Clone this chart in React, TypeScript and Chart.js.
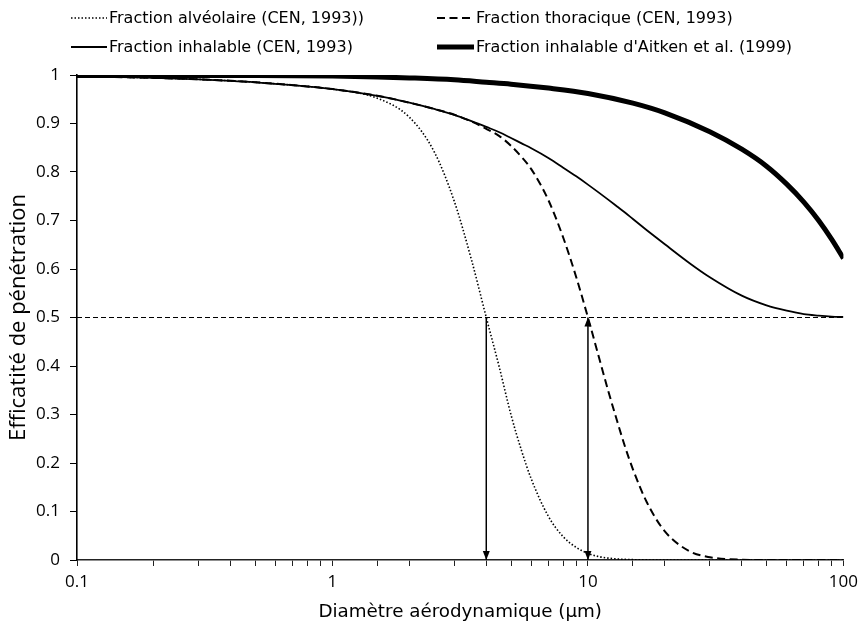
import React, { useEffect, useRef } from "react";
import { Chart, registerables } from "chart.js";

Chart.register(...registerables);

// ---- Data ----
const X_CEN = [0.1, 0.15, 0.2, 0.3, 0.4, 0.5, 0.7, 1, 1.5, 2, 2.5, 3, 3.5, 4, 4.5, 5, 5.5, 6, 7, 8, 9, 10, 11, 12, 13, 14, 15, 17, 20, 25, 30, 40, 50, 60, 70, 80, 90, 100];

const ALVEOLAIRE = [0.997, 0.9955, 0.994, 0.991, 0.988, 0.985, 0.979, 0.971, 0.952, 0.913, 0.842, 0.739, 0.619, 0.5, 0.397, 0.299, 0.225, 0.167, 0.09, 0.048, 0.026, 0.0135, 0.0072, 0.0039, 0.0021, 0.0012, 0.0007, 0.0002, 0, 0, 0, 0, 0, 0, 0, 0, 0, 0];

const THORACIQUE = [0.997, 0.9955, 0.994, 0.991, 0.988, 0.985, 0.979, 0.971, 0.957, 0.943, 0.93, 0.918, 0.904, 0.889, 0.874, 0.854, 0.831, 0.806, 0.742, 0.665, 0.583, 0.5, 0.421, 0.349, 0.287, 0.232, 0.187, 0.119, 0.059, 0.018, 0.0057, 0.0006, 0, 0, 0, 0, 0, 0];

const INHALABLE = [0.997, 0.9955, 0.994, 0.991, 0.988, 0.985, 0.979, 0.971, 0.957, 0.943, 0.93, 0.918, 0.905, 0.893, 0.882, 0.87, 0.859, 0.849, 0.829, 0.809, 0.791, 0.774, 0.758, 0.743, 0.729, 0.716, 0.703, 0.68, 0.651, 0.612, 0.583, 0.545, 0.525, 0.514, 0.507, 0.504, 0.502, 0.501];

const X_AITKEN = [0.1, 0.2, 0.5, 1, 1.5, 2, 3, 4, 5, 7, 10, 15, 20, 30, 40, 50, 60, 70, 80, 90, 100];
const AITKEN = [0.999, 0.999, 0.999, 0.998, 0.996, 0.994, 0.99, 0.985, 0.981, 0.973, 0.962, 0.942, 0.922, 0.883, 0.847, 0.812, 0.775, 0.738, 0.7, 0.661, 0.622];

const HALF_X = [0.1, 100];
const HALF_Y = [0.5, 0.5];

const ARROW_X = [4, 10];
const ARROW_Y = [0.5, 0];
const ARROW_HEADS = [["end"], ["start", "end"]];

const X_TICK_LABELS = [0.1, 1, 10, 100];

const LABELS = [
  "Fraction alvéolaire (CEN, 1993))",
  "Fraction thoracique (CEN, 1993)",
  "Fraction inhalable (CEN, 1993)",
  "Fraction inhalable d'Aitken et al. (1999)",
];

const X_TITLE = "Diamètre aérodynamique (µm)";
const Y_TITLE = "Efficatité de pénétration";

const toPoints = (xs: number[], ys: number[]) => xs.map((x, i) => ({ x, y: ys[i] }));

const legendPlugin = {
  id: "customLegend",
  afterDraw(chart: any) {
    const ctx = chart.ctx;
    const cols = [71, 437];
    const sampleW = [36, 37];
    const rows = [18, 47];
    for (let i = 0; i < 4; i++) {
      const ds = chart.data.datasets[i];
      const c = i % 2;
      const x0 = cols[c];
      const y = rows[Math.floor(i / 2)];
      ctx.save();
      ctx.strokeStyle = ds.borderColor;
      ctx.lineWidth = ds.borderWidth;
      ctx.setLineDash(ds.borderDash || []);
      ctx.beginPath();
      ctx.moveTo(x0, y);
      ctx.lineTo(x0 + sampleW[c], y);
      ctx.stroke();
      ctx.setLineDash([]);
      ctx.fillStyle = "#000";
      ctx.font = '16px "DejaVu Sans"';
      ctx.textBaseline = "middle";
      ctx.textAlign = "left";
      ctx.fillText(ds.label, x0 + sampleW[c] + 2, y + 1);
      ctx.restore();
    }
  },
};

const arrowPlugin = {
  id: "arrowHeads",
  afterDatasetsDraw(chart: any) {
    const ctx = chart.ctx;
    chart.data.datasets.forEach((ds: any, i: number) => {
      if (!ds.arrowHeads) return;
      const pts = chart.getDatasetMeta(i).data;
      const draw = (tip: any, from: any) => {
        const ang = Math.atan2(tip.y - from.y, tip.x - from.x);
        const len = 9;
        const hw = 3.5;
        ctx.save();
        ctx.fillStyle = "#000";
        ctx.translate(tip.x, tip.y);
        ctx.rotate(ang);
        ctx.beginPath();
        ctx.moveTo(0, 0);
        ctx.lineTo(-len, -hw);
        ctx.lineTo(-len, hw);
        ctx.closePath();
        ctx.fill();
        ctx.restore();
      };
      if (ds.arrowHeads.includes("end")) draw(pts[pts.length - 1], pts[0]);
      if (ds.arrowHeads.includes("start")) draw(pts[0], pts[pts.length - 1]);
    });
  },
};

export default function App() {
  const ref = useRef<HTMLCanvasElement | null>(null);

  useEffect(() => {
    document.body.style.margin = "0";
    const canvas = ref.current;
    if (!canvas) return;

    const arrowSets = ARROW_X.map((ax, i) => ({
      label: "arrow" + i,
      data: toPoints([ax, ax], ARROW_Y),
      borderColor: "#000",
      borderWidth: 1.5,
      pointRadius: 0,
      tension: 0,
      fill: false,
      arrowHeads: ARROW_HEADS[i],
    }));

    const chart = new Chart(canvas, {
      type: "line",
      data: {
        datasets: [
          {
            label: LABELS[0],
            data: toPoints(X_CEN, ALVEOLAIRE),
            borderColor: "#000",
            borderWidth: 1.6,
            borderDash: [1.5, 2],
            pointRadius: 0,
            cubicInterpolationMode: "monotone",
            fill: false,
          },
          {
            label: LABELS[1],
            data: toPoints(X_CEN, THORACIQUE),
            borderColor: "#000",
            borderWidth: 2,
            borderDash: [8, 4.5],
            pointRadius: 0,
            cubicInterpolationMode: "monotone",
            fill: false,
          },
          {
            label: LABELS[2],
            data: toPoints(X_CEN, INHALABLE),
            borderColor: "#000",
            borderWidth: 1.8,
            pointRadius: 0,
            cubicInterpolationMode: "monotone",
            fill: false,
          },
          {
            label: LABELS[3],
            data: toPoints(X_AITKEN, AITKEN),
            borderColor: "#000",
            borderWidth: 5,
            pointRadius: 0,
            cubicInterpolationMode: "monotone",
            fill: false,
          },
          {
            label: "half",
            data: toPoints(HALF_X, HALF_Y),
            borderColor: "#000",
            borderWidth: 1.1,
            borderDash: [5, 3],
            pointRadius: 0,
            tension: 0,
            fill: false,
          },
          ...arrowSets,
        ] as any,
      },
      options: {
        animation: false,
        responsive: false,
        devicePixelRatio: 1,
        layout: { padding: { top: 75, right: 16, left: 0, bottom: 0 } },
        plugins: {
          legend: { display: false },
          tooltip: { enabled: false },
        },
        scales: {
          x: {
            type: "logarithmic",
            min: 0.1,
            max: 100,
            afterFit: (s: any) => {
              s.height = 63;
            },
            border: { display: true, color: "#222", width: 1.6 },
            grid: { display: true, drawOnChartArea: false, drawTicks: true, tickLength: 6, color: "#222", lineWidth: 1 },
            ticks: {
              autoSkip: false,
              maxRotation: 0,
              padding: 6,
              color: "#000",
              font: { family: "Open Sans", size: 17 },
              callback: (v: any) => {
                const n = Number(v);
                return X_TICK_LABELS.some((t) => Math.abs(t - n) < 1e-9) ? String(n) : "";
              },
            },
            title: {
              display: true,
              text: X_TITLE,
              color: "#000",
              font: { family: "DejaVu Sans", size: 18.3 },
              padding: { top: 0, bottom: 0 },
            },
          },
          y: {
            type: "linear",
            min: 0,
            max: 1,
            afterFit: (s: any) => {
              s.width = 77;
            },
            border: { display: true, color: "#000", width: 1.6 },
            grid: { display: true, drawOnChartArea: false, drawTicks: true, tickLength: 7, color: "#000", lineWidth: 1 },
            ticks: {
              stepSize: 0.1,
              padding: 10,
              color: "#000",
              font: { family: "Open Sans", size: 17 },
              callback: (v: any) => String(Number(Number(v).toFixed(1))),
            },
            title: {
              display: true,
              text: Y_TITLE,
              color: "#000",
              font: { family: "Open Sans", size: 22 },
              padding: { top: 6, bottom: 0 },
            },
          },
        },
      },
      plugins: [legendPlugin, arrowPlugin],
    } as any);

    return () => chart.destroy();
  }, []);

  return (
    <div style={{ width: 864, height: 623 }}>
      <canvas ref={ref} width={864} height={623} style={{ display: "block" }} />
    </div>
  );
}
